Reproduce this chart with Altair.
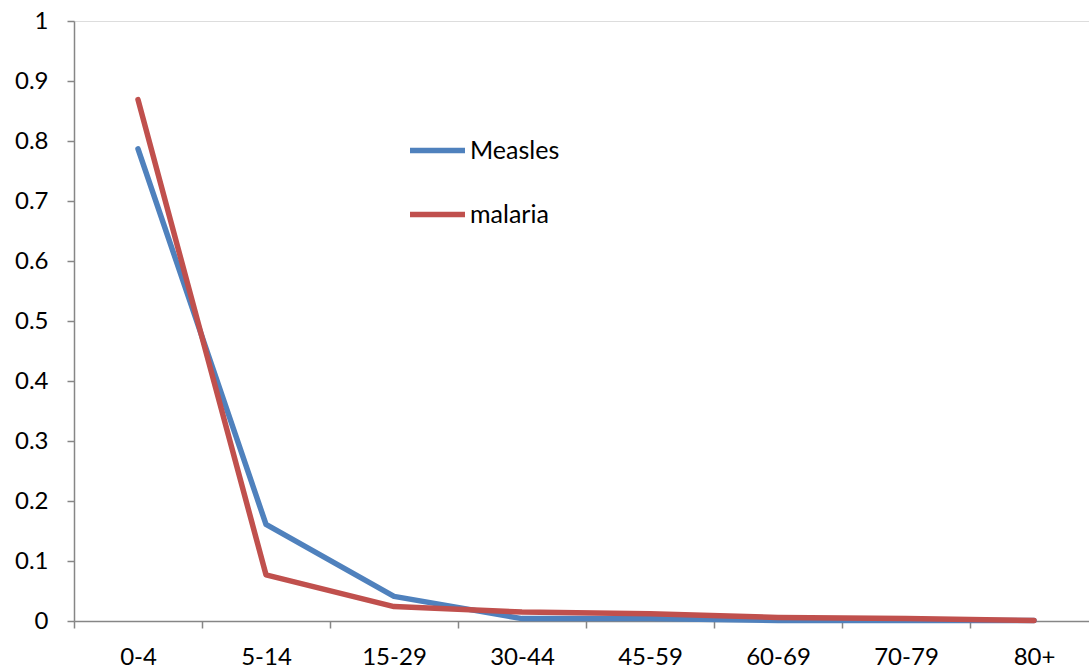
import altair as alt
import pandas as pd

age_groups = ["0-4", "5-14", "15-29", "30-44", "45-59", "60-69", "70-79", "80+"]
measles = [0.787, 0.161, 0.041, 0.004, 0.004, 0.001, 0.001, 0.001]
malaria = [0.869, 0.077, 0.024, 0.015, 0.012, 0.006, 0.004, 0.001]
series_names = ["Measles", "malaria"]
series_colors = ["#4F81BD", "#C0504D"]

rows = []
for name, vals in zip(series_names, [measles, malaria]):
    for i, (g, v) in enumerate(zip(age_groups, vals)):
        rows.append({"age": g, "value": v, "series": name, "order": i})
df = pd.DataFrame(rows)

FONT = "Lato"
AXIS_GREY = "#868686"

chart = (
    alt.Chart(df)
    .mark_line(strokeWidth=5.5, strokeCap="round", strokeJoin="round")
    .encode(
        x=alt.X(
            "age:N",
            sort=age_groups,
            # the category axis runs a little past the right edge of the page
            scale=alt.Scale(paddingInner=0, paddingOuter=0, range=[0, 1024]),
            axis=alt.Axis(
                title=None,
                labelAngle=0,
                labelFontSize=24,
                labelFont=FONT,
                labelColor="#000000",
                labelPadding=17,
                tickColor=AXIS_GREY,
                tickSize=7,
                tickWidth=1.5,
                tickBand="extent",
                domainColor=AXIS_GREY,
                domainWidth=1.5,
                grid=False,
            ),
        ),
        y=alt.Y(
            "value:Q",
            scale=alt.Scale(domain=[0, 1], nice=False),
            axis=alt.Axis(
                title=None,
                values=[i / 10 for i in range(11)],
                format="~g",
                labelFontSize=24,
                labelFont=FONT,
                labelColor="#000000",
                labelPadding=19,
                tickColor=AXIS_GREY,
                tickSize=7,
                tickWidth=1.5,
                domainColor=AXIS_GREY,
                domainWidth=1.5,
                grid=False,
            ),
        ),
        color=alt.Color(
            "series:N",
            sort=series_names,
            scale=alt.Scale(domain=series_names, range=series_colors),
            legend=alt.Legend(
                title=None,
                orient="none",
                legendX=333,
                legendY=99,
                symbolType="stroke",
                symbolSize=3025,
                symbolStrokeWidth=5.5,
                labelFontSize=25,
                labelFont=FONT,
                labelColor="#000000",
                labelOffset=2,
                rowPadding=20,
            ),
        ),
        detail="series:N",
        order="order:Q",
    )
    .properties(
        width=1015,
        height=600,
        autosize=alt.AutoSizeParams(type="none"),
        padding={"left": 74, "top": 21, "right": 0, "bottom": 49},
    )
    .configure_view(stroke=None)
    .configure(background="#ffffff")
)

chart.save("out.html", embed_options={"renderer": "svg", "actions": False})
